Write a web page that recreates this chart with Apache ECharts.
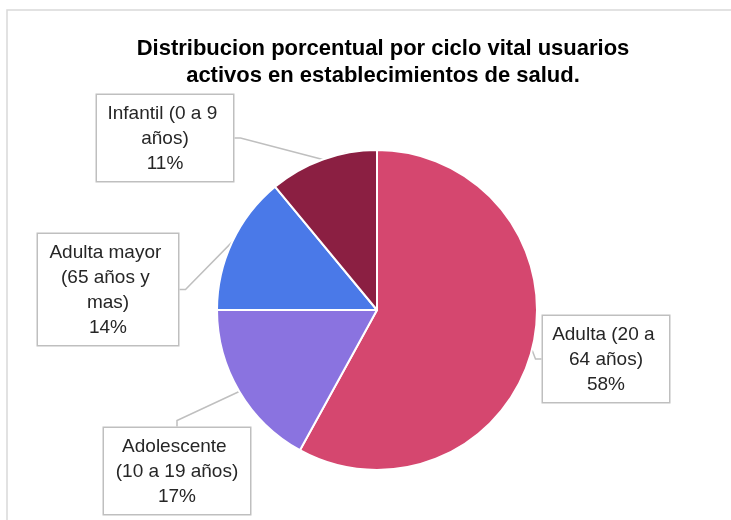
<!doctype html>
<html>
<head>
<meta charset="utf-8">
<title>Distribucion porcentual</title>
<script src="https://cdn.jsdelivr.net/npm/echarts@6/dist/echarts.min.js"></script>
<style>
  html, body { margin: 0; padding: 0; background: #fff; }
</style>
</head>
<body>
<div id="chart" style="width: 731px; height: 520px;"></div>
<script>
// data
var categories = ['Adulta (20 a 64 años)', 'Adolescente (10 a 19 años)', 'Adulta mayor (65 años y mas)', 'Infantil (0 a 9 años)'];
var values = [58, 17, 14, 11];
var colors = ['#D5476F', '#8A73E0', '#4A79E8', '#8B1F42'];

// label box placement (top-left corner, box width, text wrap width)
var boxes = [
  { x: 543, y: 316, w: 126, tw: 122 },
  { x: 104, y: 428, w: 146, tw: 136 },
  { x: 38, y: 234, w: 140, tw: 134 },
  { x: 97, y: 95, w: 136, tw: 130 }
];

var chart = echarts.init(document.getElementById('chart'));

var option = {
  animation: false,
  title: {
    text: 'Distribucion porcentual por ciclo vital usuarios\nactivos en establecimientos de salud.',
    left: 378,
    top: 30,
    textAlign: 'center',
    textStyle: {
      fontFamily: 'Liberation Sans',
      fontWeight: 'bold',
      fontSize: 22,
      lineHeight: 27,
      color: '#000'
    }
  },
  graphic: [{
    type: 'rect',
    shape: { x: 7, y: 10, width: 760, height: 560 },
    style: { fill: null, stroke: '#d9d9d9', lineWidth: 1.5 },
    silent: true
  }],
  series: [{
    type: 'pie',
    center: [377, 310],
    radius: [0, 160],
    startAngle: 90,
    clockwise: true,
    itemStyle: { borderColor: '#fff', borderWidth: 2 },
    data: categories.map(function (c, i) {
      return {
        name: c,
        value: values[i],
        itemStyle: { color: colors[i] },
        label: { width: boxes[i].tw, padding: [6, (boxes[i].w - boxes[i].tw) / 2, 5, (boxes[i].w - boxes[i].tw) / 2] }
      };
    }),
    label: {
      show: true,
      formatter: '{b}\n{d}%',
      fontFamily: 'Liberation Sans',
      fontSize: 19,
      lineHeight: 25,
      color: '#262626',
      align: 'center',
      overflow: 'break',
      backgroundColor: '#fff',
      borderColor: '#bfbfbf',
      borderWidth: 1.5
    },
    labelLine: {
      show: true,
      length: 10,
      length2: 6,
      lineStyle: { color: '#bfbfbf', width: 1.5 }
    },
    labelLayout: function (params) {
      var b = boxes[params.dataIndex];
      return {
        x: b.x + b.w / 2,
        y: b.y,
        align: 'center',
        verticalAlign: 'top'
      };
    }
  }]
};

chart.setOption(option);
</script>
</body>
</html>
